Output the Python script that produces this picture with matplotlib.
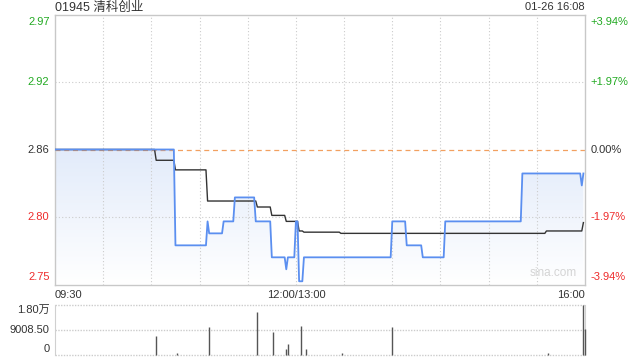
import matplotlib
matplotlib.use("Agg")
import matplotlib.pyplot as plt
import numpy as np
from matplotlib.colors import LinearSegmentedColormap

plt.rcParams["font.family"] = ["Liberation Sans", "Noto Sans CJK SC", "DejaVu Sans"]

# --- data ------------------------------------------------------------------
title = "01945 清科创业"
stamp = "01-26 16:08"
prev_close = 2.86
pct_range = 3.94  # symmetric axis range in percent

# trading minutes since 09:30 (lunch removed, 12:00/13:00 = 150, 16:00 = 330)
price_t = [0, 75, 95, 96, 105, 112, 125, 135, 144, 145, 150, 152, 155, 210, 219, 229, 243, 291, 328, 329]
price_p = [2.86, 2.78, 2.80, 2.79, 2.80, 2.82, 2.80, 2.77, 2.76, 2.77, 2.80, 2.75, 2.77, 2.80, 2.78, 2.77, 2.80, 2.84, 2.83, 2.84]

avg_t = [0, 63, 75, 95, 126, 135, 144, 152, 155, 178, 306, 329]
avg_p = [2.86, 2.851, 2.843, 2.817, 2.812, 2.805, 2.800, 2.792, 2.791, 2.790, 2.792, 2.799]

vol_t = [63, 76, 96, 126, 136, 144, 145, 153, 156, 179, 210, 307, 329, 330]
vol_v = [6700, 500, 9900, 15600, 8200, 2000, 3800, 10400, 2100, 600, 9900, 500, 18017, 9170]
vol_max = 18017

x_labels = ["09:30", "12:00/13:00", "16:00"]
x_label_t = [0, 150, 330]

BLUE = "#5b8ff0"
GRID = "#cccccc"
GREEN = "#22aa22"
RED = "#ee2b2b"
DARK = "#333333"


def hold_steps(t, p):
    """Per-minute line: each level held until the minute before the next change."""
    xs, ys = [], []
    for i in range(len(t)):
        xs.append(t[i])
        ys.append(p[i])
        if i + 1 < len(t) and t[i + 1] - 1 > t[i]:
            xs.append(t[i + 1] - 1)
            ys.append(p[i])
    return np.array(xs, float), np.array(ys, float)


fig = plt.figure(figsize=(6.4, 3.6), dpi=100)
W, H = 640.0, 360.0
ax = fig.add_axes([55 / W, 1 - 284.5 / H, 530 / W, 270 / H])
vax = fig.add_axes([55 / W, 1 - 354.5 / H, 530 / W, 49.5 / H])

ymin = prev_close * (1 - pct_range / 100)
ymax = prev_close * (1 + pct_range / 100)
ax.set_xlim(0, 330)
ax.set_ylim(ymin, ymax)

px, py = hold_steps(price_t, price_p)
ax_, ay = hold_steps(avg_t, avg_p)

# gradient fill under the price line
cmap = LinearSegmentedColormap.from_list("fill", ["#ffffff", "#e2ebfa"])
grad = np.linspace(0, 1, 256).reshape(-1, 1)
img = ax.imshow(grad, cmap=cmap, origin="lower", aspect="auto",
                extent=[0, 330, ymin, prev_close], zorder=1)
poly = ax.fill_between(px, py, ymin, facecolor="none", edgecolor="none")
img.set_clip_path(poly.get_paths()[0], transform=ax.transData)
ax.set_xlim(0, 330)
ax.set_ylim(ymin, ymax)

# grid
for t in range(30, 330, 30):
    ax.axvline(t, color=GRID, lw=0.8, ls=(0, (1, 2)), zorder=2)
for k in (-1, 1):
    ax.axhline(prev_close * (1 + k * pct_range / 200), color=GRID, lw=0.8, ls=(0, (1, 2)), zorder=2)
ax.axhline(prev_close, color="#f2a060", lw=0.9, ls=(0, (4, 3)), zorder=2)

ax.plot(ax_, ay, color=DARK, lw=1.0, zorder=3)
ax.plot(px, py, color=BLUE, lw=1.3, zorder=4)

ax.set_xticks([])
ax.set_yticks([])
for s in ax.spines.values():
    s.set_color("#c8c8c8")
    s.set_linewidth(1.0)

# price labels left, percent labels right
levels = [pct_range, pct_range / 2, 0, -pct_range / 2, -pct_range]
for pct in levels:
    price = prev_close * (1 + pct / 100)
    col = GREEN if pct > 0 else (RED if pct < 0 else DARK)
    va = "top" if pct == pct_range else ("bottom" if pct == -pct_range else "center")
    off = -1 if va == "top" else (1 if va == "bottom" else 0)
    ax.annotate(f"{price:.2f}", (0, price), xycoords=("axes fraction", "data"),
                xytext=(-4, off * 1.5), textcoords="offset points",
                ha="right", va=va, color=col, fontsize=8)
    txt = "0.00%" if pct == 0 else f"{pct:+.2f}%"
    ax.annotate(txt, (1, price), xycoords=("axes fraction", "data"),
                xytext=(4, off * 1.5), textcoords="offset points",
                ha="left", va=va, color=col, fontsize=8)

for lab, t in zip(x_labels, x_label_t):
    ha = "left" if t == 0 else ("right" if t == 330 else "center")
    ax.annotate(lab, (t, 0), xycoords=("data", "axes fraction"),
                xytext=(0, -4), textcoords="offset points",
                ha=ha, va="top", color=DARK, fontsize=8)

ax.text(0.985, 0.02, "sina.com", transform=ax.transAxes, ha="right", va="bottom",
        color="#d4d4d4", fontsize=8.5, zorder=5)

fig.text(55 / W, 1 - 7.5 / H, title, ha="left", va="center", color=DARK, fontsize=9)
fig.text(585 / W, 1 - 7.5 / H, stamp, ha="right", va="center", color=DARK, fontsize=8)

# volume panel
vax.set_xlim(0, 330)
vax.set_ylim(0, vol_max)
vax.vlines(vol_t, 0, vol_v, color="#555555", lw=1.0, clip_on=False, zorder=3)
for v in (vol_max, vol_max / 2, 0):
    vax.axhline(v, color=GRID, lw=1.0, ls=(0, (1, 1)), zorder=2, clip_on=False)
vax.set_xticks([])
vax.set_yticks([])
for name, s in vax.spines.items():
    s.set_color("#d0d0d0")
    s.set_visible(name in ("left", "right"))

vol_labels = [(vol_max, "1.80万", "top"), (vol_max / 2, "9008.50", "center"), (0, "0", "bottom")]
for v, lab, va in vol_labels:
    vax.annotate(lab, (0, v), xycoords=("axes fraction", "data"),
                 xytext=(-4, 0), textcoords="offset points",
                 ha="right", va=va, color=DARK, fontsize=8)

fig.savefig("out.png", dpi=100)
